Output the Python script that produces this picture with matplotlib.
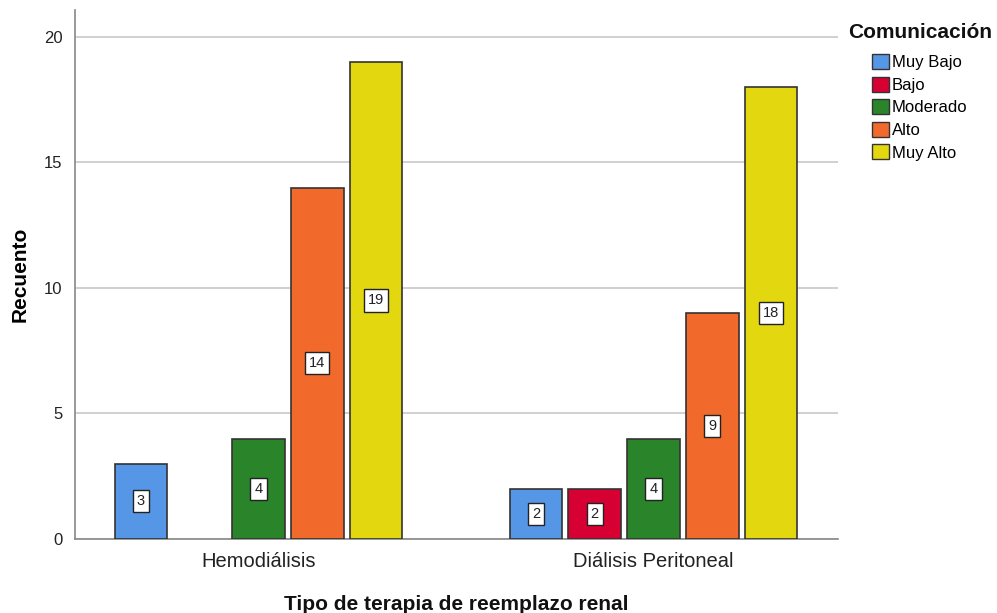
import numpy as np
import matplotlib
matplotlib.use("Agg")
import matplotlib.pyplot as plt
from matplotlib.patches import Patch

plt.rcParams['font.family'] = ['Liberation Sans', 'DejaVu Sans']

# datos
therapies = ["Hemodiálisis", "Diálisis Peritoneal"]
levels = ["Muy Bajo", "Bajo", "Moderado", "Alto", "Muy Alto"]
muy_bajo = [3, 2]
bajo = [0, 2]
moderado = [4, 4]
alto = [14, 9]
muy_alto = [19, 18]
colors = ["#5596e6", "#d70033", "#2a842a", "#f26a2b", "#e3d80f"]

series = [muy_bajo, bajo, moderado, alto, muy_alto]

fig = plt.figure(figsize=(9.97, 6.13), dpi=100)
ax = fig.add_axes([0.0752, 0.1207, 0.7653, 0.863])

x = np.arange(len(therapies))
step = 0.1487
width = 0.134
for i, (vals, col) in enumerate(zip(series, colors)):
    pos = x + (i - 2) * step
    for p, v in zip(pos, vals):
        if v == 0:
            continue
        ax.bar(p, v, width=width, color=col, edgecolor="#333333", linewidth=1.2, zorder=3)
        ax.text(p, v / 2, str(v), ha="center", va="center", fontsize=10.5, zorder=4,
                color="#222222",
                bbox=dict(boxstyle="square,pad=0.28", fc="white", ec="#222222", lw=1))

ax.set_xlim(-0.4646, 1.467)
ax.set_ylim(0, 21.07)
ax.set_yticks([0, 5, 10, 15, 20])
ax.set_xticks(x)
ax.set_xticklabels(therapies, fontsize=14.5, color="#222222")
ax.tick_params(axis="y", labelsize=12, length=0, pad=9, colors="#222222")
ax.tick_params(axis="x", length=0, pad=9)
ax.yaxis.grid(True, color="#c8c8c8", linewidth=1.2, zorder=0)
ax.set_axisbelow(True)
for s in ["top", "right"]:
    ax.spines[s].set_visible(False)
for s in ["left", "bottom"]:
    ax.spines[s].set_color("#888888")
    ax.spines[s].set_linewidth(1.2)

ax.set_ylabel("Recuento", fontsize=15, fontweight="bold", labelpad=10)
fig.text(456.5 / 997, 1 - 604 / 613, "Tipo de terapia de reemplazo renal", fontsize=15,
         fontweight="bold", ha="center", va="center", color="#111111")

fig.text(848 / 997, 1 - 32 / 613, "Comunicación", fontsize=15, fontweight="bold",
         va="center", ha="left", color="#111111")
handles = [Patch(facecolor=c, edgecolor="#333333", label=l) for c, l in zip(colors, levels)]
fig.legend(handles=handles, loc="upper left", bbox_to_anchor=(872 / 997, 1 - 54 / 613),
           frameon=False, fontsize=12, borderpad=0, borderaxespad=0,
           handlelength=1.0, handleheight=1.0, handletextpad=0.18,
           labelspacing=0.385)

fig.savefig("out.png", dpi=100)
